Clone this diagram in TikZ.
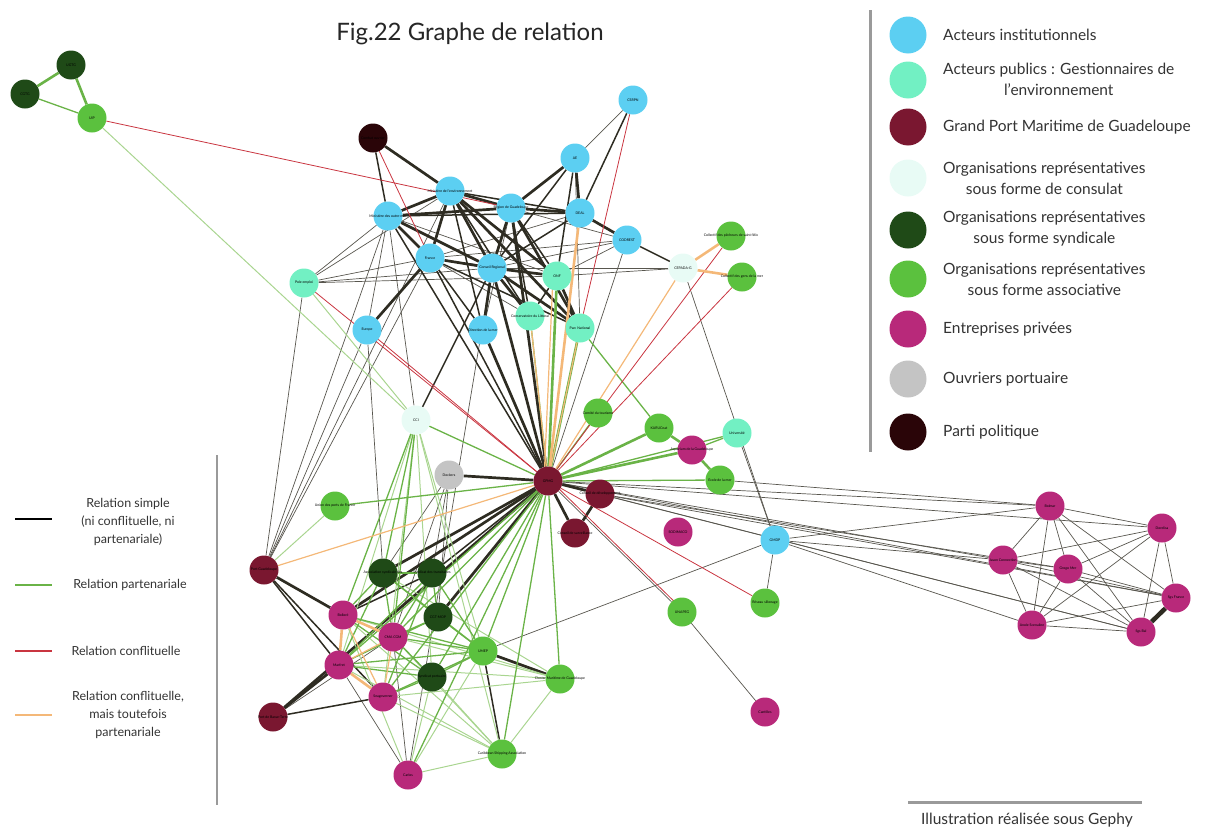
\documentclass[tikz,border=0pt]{standalone}
\usepackage{fontspec}
\setmainfont{Lato}
\pgfdeclarelayer{bg}
\pgfsetlayers{bg,main}
\definecolor{cblue}{HTML}{5CCFF2}
\definecolor{cteal}{HTML}{72F0C3}
\definecolor{cdred}{HTML}{7A1730}
\definecolor{cpale}{HTML}{E8FBF5}
\definecolor{cdgreen}{HTML}{1F4A17}
\definecolor{cgreen}{HTML}{5BC13E}
\definecolor{cmag}{HTML}{B8297A}
\definecolor{cgrey}{HTML}{C4C4C4}
\definecolor{cparty}{HTML}{2A0508}
\definecolor{esim}{HTML}{2E2C22}
\definecolor{epar}{HTML}{6AB347}
\definecolor{elpar}{HTML}{A9D590}
\definecolor{econ}{HTML}{C93540}
\definecolor{ecp}{HTML}{F4B878}
\definecolor{legline}{HTML}{9A9A9A}
\newcommand{\nlab}[1]{\makebox[0pt]{#1}}
\tikzset{
  nd/.style={circle,inner sep=0pt,minimum size=29pt,text=black,font=\fontsize{3.5}{4}\selectfont},
  nblue/.style={nd,fill=cblue},
  nteal/.style={nd,fill=cteal},
  ndred/.style={nd,fill=cdred},
  npale/.style={nd,fill=cpale},
  ndgreen/.style={nd,fill=cdgreen},
  ngreen/.style={nd,fill=cgreen},
  nmag/.style={nd,fill=cmag},
  ngrey/.style={nd,fill=cgrey},
  nparty/.style={nd,fill=cparty},
  sim/.style={draw=esim!80,line width=0.7pt},
  simM/.style={draw=esim,line width=1.5pt},
  simT/.style={draw=esim,line width=2.7pt},
  par/.style={draw=epar,line width=1.3pt},
  parT/.style={draw=epar,line width=2.6pt},
  lpar/.style={draw=elpar,line width=1pt},
  con/.style={draw=econ,line width=0.8pt},
  cpe/.style={draw=ecp,line width=1.2pt},
  cpT/.style={draw=ecp,line width=2.6pt},
  legc/.style={circle,inner sep=0pt,minimum size=37pt},
  legt/.style={anchor=west,inner sep=0pt,align=center,font=\fontsize{15.5}{21}\selectfont,text=black!80},
  legl/.style={align=center,font=\fontsize{12.5}{18}\selectfont,text=black!80},
}
\begin{document}
\begin{tikzpicture}[x=1pt,y=-1pt]
\useasboundingbox (0,0) rectangle (1210,830);
% ---------- nodes ----------
\node[ndgreen] (t1) at (71,65) {\nlab{UGTG}};
\node[ndgreen] (t2) at (25,94) {\nlab{CGTG}};
\node[ngreen] (uip) at (92,118) {\nlab{UIP}};
\node[nblue] (csrpn) at (633,100) {\nlab{CSRPN}};
\node[nblue] (ae) at (575,158) {\nlab{AE}};
\node[nparty] (co) at (373,138) {\nlab{Combat ouvrier}};
\node[nblue] (menv) at (450,191) {\nlab{Ministère de l'environnement}};
\node[nblue] (mom) at (388,216) {\nlab{Ministère des outre-mer}};
\node[nblue] (reg) at (511,208) {\nlab{Région de Guadeloupe}};
\node[nblue] (deal) at (580,213) {\nlab{DEAL}};
\node[nblue] (codrest) at (627,240) {\nlab{CODREST}};
\node[nblue] (france) at (430,258) {\nlab{France}};
\node[nblue] (creg) at (492,268) {\nlab{Conseil Regional}};
\node[nteal] (onf) at (557,276) {\nlab{ONF}};
\node[nteal] (pole) at (304,283) {\nlab{Pole emploi}};
\node[npale] (cepada) at (683,268) {\nlab{CEPADA-G}};
\node[ngreen] (cpec) at (731,236) {\nlab{Collectif des pêcheurs de saint félix}};
\node[ngreen] (cgens) at (742,277) {\nlab{Collectif des gens de la mer}};
\node[nteal] (cons) at (530,316) {\nlab{Conservatoire du Littoral}};
\node[nteal] (parc) at (580,328) {\nlab{Parc National}};
\node[nblue] (europe) at (367,330) {\nlab{Europe}};
\node[nblue] (dmer) at (483,330) {\nlab{Direction de la mer}};
\node[npale] (cci) at (416,420) {\nlab{CCI}};
\node[ngreen] (ctour) at (598,413) {\nlab{Comité du tourisme}};
\node[ngreen] (karu) at (659,428) {\nlab{KARUCnat}};
\node[nteal] (univ) at (737,433) {\nlab{Université}};
\node[nmag] (aqua) at (692,450) {\nlab{Aquarium de la Guadeloupe}};
\node[ngrey] (dock) at (449,475) {\nlab{Dockers}};
\node[ndred] (gpmg) at (548,481) {\nlab{GPMG}};
\node[ngreen] (ecole) at (720,480) {\nlab{Ecole de la mer}};
\node[ndred] (cdev) at (600,494) {\nlab{Conseil de développement}};
\node[ngreen] (union) at (335,506) {\nlab{Union des ports de France}};
\node[ndred] (csurv) at (575,533) {\nlab{Conseil de surveillance}};
\node[nmag] (sodi) at (678,532) {\nlab{SODIMACO}};
\node[nblue] (gmdp) at (775,540) {\nlab{GMDP}};
\node[ndred] (port1) at (264,570) {\nlab{Port Guadeloupe}};
\node[ndgreen] (s1) at (383,573) {\nlab{Association syndicale des}};
\node[ndgreen] (s2) at (432,573) {\nlab{Syndicat des transitaires}};
\node[ndgreen] (s3) at (438,617) {\nlab{CGT-MOP}};
\node[nmag] (boll) at (343,615) {\nlab{Bolloré}};
\node[nmag] (cma) at (393,637) {\nlab{CMA CGM}};
\node[ngreen] (umep) at (483,651) {\nlab{UMEP}};
\node[nmag] (marf) at (339,665) {\nlab{Marfret}};
\node[ndgreen] (s4) at (432,677) {\nlab{Syndicat portuaire}};
\node[ngreen] (clus) at (560,679) {\nlab{Cluster Maritime de Guadeloupe}};
\node[nmag] (disp) at (383,697) {\nlab{Seagoverner}};
\node[ndred] (port2) at (273,717) {\nlab{Port de Basse-Terre}};
\node[ngreen] (unap) at (682,612) {\nlab{UNAPEG}};
\node[ngreen] (reseau) at (765,603) {\nlab{Réseau sillonage}};
\node[ngreen] (carib) at (502,754) {\nlab{Caribbean Shipping Association}};
\node[nmag] (carl) at (408,775) {\nlab{Carlos}};
\node[nmag] (cant) at (765,712) {\nlab{Cantilles}};
\node[nmag] (r1) at (1050,506) {\nlab{Bolmar}};
\node[nmag] (r2) at (1162,528) {\nlab{Dorelisa}};
\node[nmag] (r3) at (1003,560) {\nlab{Jason Connection}};
\node[nmag] (r4) at (1068,569) {\nlab{Grogo Mer}};
\node[nmag] (r5) at (1176,598) {\nlab{Sgs France}};
\node[nmag] (r6) at (1032,625) {\nlab{Anole Scenaline}};
\node[nmag] (r7) at (1141,632) {\nlab{Sgs Bal}};
% ---------- edges ----------
\begin{pgfonlayer}{bg}
\foreach \a/\b in {ae/csrpn,ae/parc,mom/europe,mom/pole,mom/port1,mom/cci,mom/onf,reg/codrest,reg/dmer,deal/france,codrest/onf,codrest/creg,codrest/france,codrest/gpmg,france/pole,france/onf,france/cons,creg/pole,creg/cepada,onf/cepada,pole/menv,pole/onf,europe/port1,pole/port1,menv/port1,france/port1,cepada/gmdp,dock/s1,dock/s2,dock/cma,dock/s3,gpmg/unap,unap/cant,gmdp/reseau,gmdp/univ,gmdp/umep,gmdp/r1,gmdp/r3,gmdp/r6,gpmg/r1,gpmg/r2,gpmg/r3,gpmg/r5,gpmg/r7,cdev/r5,cdev/r7,cdev/r4,ecole/r1,port2/cma,carl/marf,carl/cma,europe/s1,creg/carl,
r1/r2,r1/r3,r1/r4,r1/r5,r1/r6,r1/r7,r2/r3,r2/r4,r2/r5,r2/r6,r2/r7,r3/r4,r3/r6,r3/r5,r3/r7,r4/r6,r4/r5,r4/r7,r5/r6,r6/r7}
  \draw[sim] (\a) -- (\b);
\foreach \a/\b in {menv/deal,menv/cons,menv/dmer,mom/deal,mom/gpmg,reg/onf,reg/cons,ae/onf,ae/creg,csrpn/deal,deal/creg,france/parc,france/gpmg,onf/cons,codrest/cepada,port1/disp,port1/marf,s2/boll,gpmg/s2,co/mom,umep/carib,france/dmer,port2/disp,creg/cci}
  \draw[simM] (\a) -- (\b);
\foreach \a/\b in {menv/mom,menv/reg,menv/france,menv/creg,menv/onf,mom/reg,mom/france,mom/creg,reg/deal,reg/ae,reg/creg,reg/parc,reg/gpmg,france/creg,france/europe,creg/onf,creg/cons,creg/parc,creg/dmer,creg/gpmg,deal/codrest,ae/deal,co/menv,dmer/gpmg,gpmg/dock,gpmg/cdev,gpmg/csurv,cdev/csurv,gpmg/s1,gpmg/boll,gpmg/s3,port1/boll,port2/marf,umep/clus,onf/parc,menv/parc,gpmg/port2}
  \draw[simT] (\a) -- (\b);
\draw[draw=esim,line width=4.5pt] (r5) -- (r7);
% partner light
\foreach \a/\b in {uip/cci,pole/cci,union/port1,cci/marf,cci/disp,cci/s4,cci/umep,cci/carib,clus/carib,carib/carl,carib/marf,carib/boll,carib/cma,carib/disp,carib/s4,carl/boll,carl/s4,carl/umep,marf/clus,disp/clus,boll/clus,s1/clus,cma/clus}
  \draw[lpar] (\a) -- (\b);
\foreach \a/\b in {t2/uip,gpmg/ctour,gpmg/univ,gpmg/ecole,gpmg/union,gpmg/cma,gpmg/marf,gpmg/s4,gpmg/umep,gpmg/clus,gpmg/disp,gpmg/carl,gpmg/carib,gpmg/cci,cci/s1,cci/cma,cci/boll,s1/s2,s1/boll,s1/cma,s1/s3,s1/umep,s2/s3,s2/umep,s2/cma,s3/cma,s3/marf,s3/umep,s4/umep,s4/marf,s4/cma,s4/disp,s4/boll,cma/umep,boll/umep,marf/umep,disp/umep,s1/marf,s2/marf,s2/disp,parc/karu,cons/gpmg,univ/aqua}
  \draw[par] (\a) -- (\b);
\foreach \a/\b in {t1/t2,t1/uip,onf/gpmg,parc/gpmg,gpmg/karu,gpmg/aqua,karu/aqua,aqua/ecole}
  \draw[parT] (\a) -- (\b);
% conflict
\foreach \a/\b in {uip/reg,co/france,csrpn/parc,pole/gpmg,europe/gpmg,cpec/gpmg,cgens/gpmg,gpmg/reseau}
  \draw[con] (\a) -- (\b);
\draw[con] ([xshift=3pt]gpmg.center) -- ([xshift=3pt]unap.center);
% conflict but partner
\foreach \a/\b in {parc/gpmg,cons/gpmg,cepada/gpmg,port1/gpmg,marf/cma,cma/disp,boll/disp}
  \draw[cpe] (\a) -- (\b);
\draw[cpe] ([xshift=-4pt]onf.center) -- ([xshift=-4pt]gpmg.center);
\foreach \a/\b in {cepada/cpec,cepada/cgens,boll/cma,boll/marf,marf/disp,deal/gpmg}
  \draw[cpT] (\a) -- (\b);
\end{pgfonlayer}
% ---------- title ----------
\node[font=\fontsize{24}{28}\selectfont,text=black!85] (title) at (470,34) {Fig.22 Graphe de relation};
% ---------- right legend ----------
\draw[legline,line width=3pt] (870,10) -- (870,452);
\node[legc,fill=cblue] (lc1) at (908,35) {};
\node[legt] (lt1) at (943,35) {Acteurs institutionnels};
\node[legc,fill=cteal] (lc2) at (908,80) {};
\node[legt] (lt2) at (943,79) {Acteurs publics : Gestionnaires de\\l'environnement};
\node[legc,fill=cdred] (lc3) at (908,127) {};
\node[legt] (lt3) at (943,127) {Grand Port Maritime de Guadeloupe};
\node[legc,fill=cpale] (lc4) at (908,178) {};
\node[legt] (lt4) at (943,178) {Organisations représentatives\\sous forme de consulat};
\node[legc,fill=cdgreen] (lc5) at (908,230) {};
\node[legt] (lt5) at (943,229) {Organisations représentatives\\sous forme syndicale};
\node[legc,fill=cgreen] (lc6) at (908,279) {};
\node[legt] (lt6) at (943,279) {Organisations représentatives\\sous forme associative};
\node[legc,fill=cmag] (lc7) at (908,329) {};
\node[legt] (lt7) at (943,329) {Entreprises privées};
\node[legc,fill=cgrey] (lc8) at (908,379) {};
\node[legt] (lt8) at (943,379) {Ouvriers portuaire};
\node[legc,fill=cparty] (lc9) at (908,432) {};
\node[legt] (lt9) at (943,432) {Parti politique};
% ---------- left legend ----------
\draw[legline,line width=2.5pt] (217,455) -- (217,805);
\coordinate (la1) at (15,519); \coordinate (lb1) at (52,519);
\coordinate (la2) at (15,585); \coordinate (lb2) at (52,585);
\coordinate (la3) at (15,651); \coordinate (lb3) at (52,651);
\coordinate (la4) at (15,715); \coordinate (lb4) at (52,715);
\draw[draw=black,line width=2.2pt] (la1) -- (lb1);
\draw[draw=epar,line width=2.2pt] (la2) -- (lb2);
\draw[draw=econ,line width=2.2pt] (la3) -- (lb3);
\draw[draw=ecp,line width=2.2pt] (la4) -- (lb4);
\node[legl] (ll1) at (128,522) {Relation simple\\(ni conflituelle, ni\\partenariale)};
\node[legl] (ll2) at (130,585) {Relation partenariale};
\node[legl] (ll3) at (126,651) {Relation conflituelle};
\node[legl] (ll4) at (128,715) {Relation conflituelle,\\mais toutefois\\partenariale};
% ---------- footer ----------
\coordinate (fa) at (908,802); \coordinate (fb) at (1142,802);
\draw[legline,line width=3pt] (fa) -- (fb);
\node[font=\fontsize{15.5}{18}\selectfont,text=black!80] (foot) at (1027,820) {Illustration réalisée sous Gephy};
\end{tikzpicture}
\end{document}
